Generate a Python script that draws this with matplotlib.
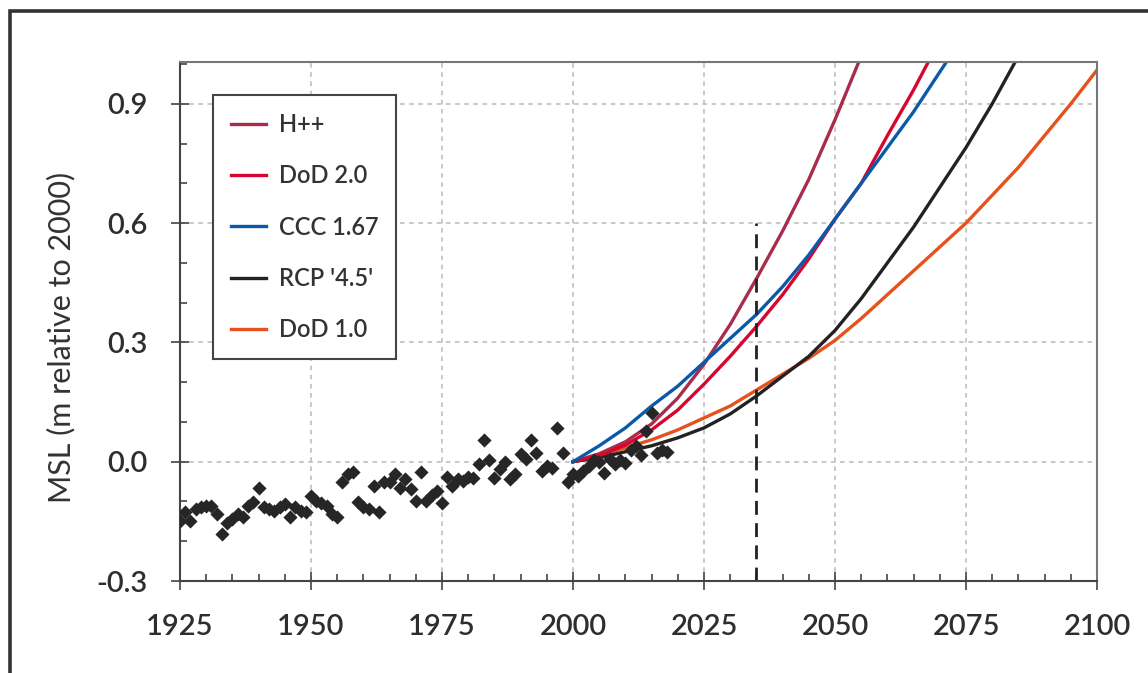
import matplotlib.pyplot as plt
from matplotlib.patches import Rectangle
from matplotlib.ticker import MultipleLocator

plt.rcParams['font.family'] = ['Lato', 'DejaVu Sans']
plt.rcParams['font.weight'] = 'semibold'

# observed annual mean sea level (m relative to 2000)
obs_years = list(range(1925, 2019))
obs_msl = [-0.150, -0.127, -0.148, -0.120, -0.115, -0.111, -0.111, -0.132, -0.182, -0.153,
           -0.144, -0.132, -0.140, -0.111, -0.102, -0.065, -0.115, -0.119, -0.123, -0.115,
           -0.106, -0.140, -0.115, -0.123, -0.127, -0.086, -0.098, -0.105, -0.111, -0.132,
           -0.140, -0.052, -0.031, -0.027, -0.102, -0.115, -0.119, -0.060, -0.127, -0.052,
           -0.052, -0.031, -0.065, -0.044, -0.069, -0.098, -0.027, -0.100, -0.085, -0.073,
           -0.104, -0.039, -0.060, -0.044, -0.048, -0.039, -0.042, -0.006, 0.055, 0.003,
           -0.042, -0.018, -0.002, -0.044, -0.031, 0.019, 0.007, 0.055, 0.022, -0.023,
           -0.012, -0.017, 0.084, 0.022, -0.052, -0.031, -0.035, -0.023, -0.010, 0.003,
           0.000, -0.028, 0.007, -0.005, 0.005, -0.003, 0.030, 0.039, 0.018, 0.076,
           0.123, 0.022, 0.030, 0.025]

# projections, 5-yearly from 2000
proj_years = list(range(2000, 2105, 5))
hpp = [0.0, 0.02, 0.05, 0.095, 0.16, 0.245, 0.345, 0.46, 0.58, 0.71, 0.86, 1.02]
dod20 = [0.0, 0.015, 0.042, 0.08, 0.13, 0.195, 0.265, 0.34, 0.42, 0.51, 0.61, 0.70, 0.82, 0.935, 1.06]
ccc167 = [0.0, 0.04, 0.085, 0.14, 0.19, 0.25, 0.31, 0.37, 0.44, 0.52, 0.61, 0.70, 0.79, 0.88, 0.98, 1.08]
rcp45 = [0.0, 0.01, 0.025, 0.04, 0.06, 0.085, 0.12, 0.165, 0.215, 0.265, 0.33, 0.41, 0.50,
         0.59, 0.69, 0.79, 0.90, 1.02]
dod10 = [0.0, 0.015, 0.035, 0.055, 0.08, 0.11, 0.14, 0.18, 0.22, 0.26, 0.305, 0.36, 0.42,
         0.48, 0.54, 0.60, 0.67, 0.74, 0.82, 0.90, 0.985]

fig = plt.figure(figsize=(11.48, 6.73), dpi=100)
ax = fig.add_axes([0.1568, 0.1367, 0.7988, 0.7712])

# outer frame of the original figure (cut at right and bottom)
fig.patches.append(Rectangle((0.0085, -0.1), 1.2, 1.1 - 0.0163, transform=fig.transFigure,
                             fill=False, edgecolor='#333333', linewidth=2.6))

ax.grid(True, which='major', color='#b8b8c0', linestyle=(0, (3, 3)), linewidth=1.1)
ax.set_axisbelow(True)

lw = 2.4
l_dod10, = ax.plot(proj_years[:len(dod10)], dod10, color='#e5521c', lw=lw, label='DoD 1.0')
l_rcp, = ax.plot(proj_years[:len(rcp45)], rcp45, color='#222222', lw=lw, label="RCP '4.5'")
l_hpp, = ax.plot(proj_years[:len(hpp)], hpp, color='#a82d4c', lw=lw, label='H++')
l_dod20, = ax.plot(proj_years[:len(dod20)], dod20, color='#d6062e', lw=lw, label='DoD 2.0')
l_ccc, = ax.plot(proj_years[:len(ccc167)], ccc167, color='#0a5aaa', lw=lw, label='CCC 1.67')

ax.scatter(obs_years, obs_msl, marker='D', s=52, color='#262626', zorder=5, linewidths=0)

ax.plot([2035, 2035], [-0.3, 0.6], color='#222222', lw=2, linestyle=(0, (5, 3)))

ax.set_xlim(1925, 2100)
ax.set_ylim(-0.3, 1.005)
ax.set_xticks(range(1925, 2101, 25))
ax.set_yticks([-0.3, 0.0, 0.3, 0.6, 0.9])
ax.set_yticklabels(['-0.3', '0.0', '0.3', '0.6', '0.9'])
ax.xaxis.set_minor_locator(MultipleLocator(5))
ax.yaxis.set_minor_locator(MultipleLocator(0.1))
ax.tick_params(which='major', direction='inout', length=13, width=1.2, color='#444444',
               labelsize=21, labelcolor='#2e2e2e')
ax.tick_params(axis='x', which='major', pad=17)
ax.tick_params(axis='y', which='major', pad=17)
ax.tick_params(which='minor', direction='in', length=5, width=1.2, color='#444444')

for side in ['left', 'bottom']:
    ax.spines[side].set_color('#444444')
    ax.spines[side].set_linewidth(1.5)
for side in ['top', 'right']:
    ax.spines[side].set_color('#777777')
    ax.spines[side].set_linewidth(1.5)

ax.set_ylabel('MSL (m relative to 2000)', fontsize=22, color='#333333')
ax.yaxis.set_label_coords(-0.114, 0.47)

leg = ax.legend(handles=[l_hpp, l_dod20, l_ccc, l_rcp, l_dod10], loc='upper left',
                bbox_to_anchor=(0.036, 0.936), borderaxespad=0, fontsize=17,
                labelspacing=1.2, handlelength=1.5, handletextpad=0.55, borderpad=0.75,
                fancybox=False, framealpha=1, edgecolor='#444444')
leg.get_frame().set_linewidth(1.5)
for t in leg.get_texts():
    t.set_color('#333333')

fig.savefig('out.png', dpi=100)
